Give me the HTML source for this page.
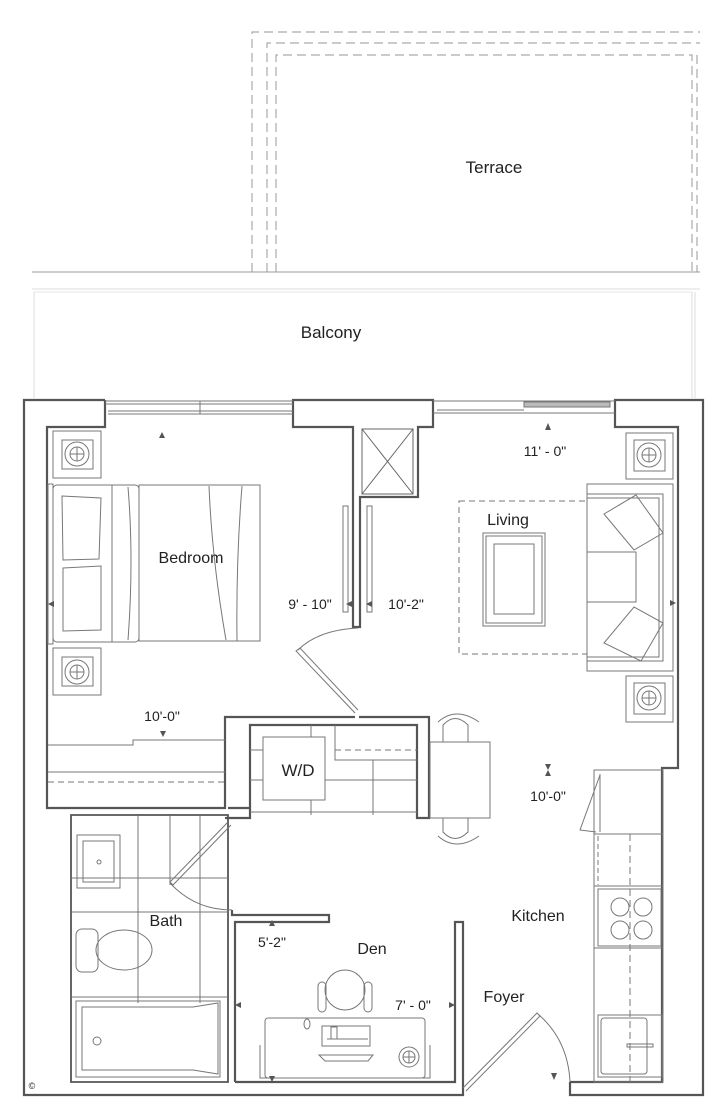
<!DOCTYPE html>
<html><head><meta charset="utf-8"><style>
html,body{margin:0;padding:0;background:#fff;}
svg{display:block;}
text{font-family:"Liberation Sans",sans-serif;fill:#222;}
</style></head><body>
<svg width="728" height="1119" viewBox="0 0 728 1119" xmlns="http://www.w3.org/2000/svg">
<rect width="728" height="1119" fill="#fff"/>
<!-- Terrace -->
<g fill="none" stroke="#aaa" stroke-width="1.2" stroke-dasharray="9,5">
<path d="M252,272 V32 H700"/>
<path d="M267,272 V43 H700"/>
<path d="M276,272 V55 H692 V272"/>
<path d="M697,55 V272"/>
</g>
<g stroke="#bbb" stroke-width="1" fill="none">
<line x1="32" y1="272" x2="700" y2="272" stroke="#999"/>
<line x1="32" y1="289" x2="700" y2="289" stroke="#ddd"/>
<line x1="34" y1="292" x2="34" y2="398" stroke="#ddd"/>
<line x1="692" y1="292" x2="692" y2="398" stroke="#ddd"/>
<line x1="695" y1="292" x2="695" y2="398" stroke="#ddd"/>
<line x1="34" y1="292" x2="692" y2="292" stroke="#e5e5e5"/>
</g>
<text x="494" y="173" font-size="17" text-anchor="middle">Terrace</text>
<text x="331" y="338" font-size="17" text-anchor="middle">Balcony</text>

<!-- Walls -->
<g fill="none" stroke="#555" stroke-width="2.2">
<path d="M105,400 H24 V1095 H463 V1082"/>
<path d="M570,1082 V1095 H703 V400 H615 V427 H678 V768 H662 V1082 H570"/>
<path d="M105,400 V427 H47 V808 H225 V717 H355"/>
<path d="M359,717 H429 V818 H417 V725 H250 V818 H225"/>
<path d="M293,400 H433 V427 H418 V497 H360 V627 H353 V427 H293 Z"/>
<path d="M71,815 H228 V1082 H71 Z" stroke-width="1.8"/>
<path d="M235,1082 V922 H329 V915 H232 V910"/>
<path d="M463,1082 V922 H455 V1082 H235"/>
<path d="M250,808 H228" />
</g>
<!-- windows -->
<g stroke="#777" stroke-width="1" fill="none">
<line x1="105" y1="401" x2="293" y2="401"/><line x1="105" y1="404" x2="293" y2="404"/>
<line x1="108" y1="411" x2="293" y2="411"/><line x1="108" y1="414" x2="293" y2="414"/>
<line x1="200" y1="401" x2="200" y2="414"/>
<line x1="433" y1="401" x2="615" y2="401"/><line x1="433" y1="413" x2="615" y2="413"/>
<line x1="437" y1="410" x2="524" y2="410"/>
<rect x="524" y="402" width="86" height="5" fill="#bbb"/>
</g>
<!-- closet X -->
<g stroke="#666" stroke-width="1" fill="none">
<rect x="362" y="429" width="51" height="65"/>
<line x1="362" y1="429" x2="413" y2="494"/><line x1="413" y1="429" x2="362" y2="494"/>
</g>
<!-- furniture -->
<g stroke="#777" stroke-width="1" fill="none">
<!-- nightstands -->
<rect x="53" y="431" width="48" height="47"/><rect x="62" y="440" width="31" height="29"/>
<circle cx="77" cy="454" r="12"/><circle cx="77" cy="454" r="7"/>
<line x1="70" y1="454" x2="84" y2="454"/><line x1="77" y1="447" x2="77" y2="461"/>
<rect x="53" y="648" width="48" height="47"/><rect x="62" y="657" width="31" height="29"/>
<circle cx="77" cy="672" r="12"/><circle cx="77" cy="672" r="7"/>
<line x1="70" y1="672" x2="84" y2="672"/><line x1="77" y1="665" x2="77" y2="679"/>
<rect x="626" y="433" width="47" height="46"/><rect x="634" y="440" width="31" height="31"/>
<circle cx="649" cy="455" r="12"/><circle cx="649" cy="455" r="7"/>
<line x1="642" y1="455" x2="656" y2="455"/><line x1="649" y1="448" x2="649" y2="462"/>
<rect x="626" y="676" width="47" height="46"/><rect x="634" y="683" width="31" height="31"/>
<circle cx="649" cy="698" r="12"/><circle cx="649" cy="698" r="7"/>
<line x1="642" y1="698" x2="656" y2="698"/><line x1="649" y1="691" x2="649" y2="705"/>
<!-- bed -->
<rect x="48" y="484" width="5" height="160"/>
<rect x="53" y="485" width="86" height="157" rx="4"/>
<line x1="112" y1="485" x2="112" y2="642"/>
<rect x="139" y="485" width="121" height="156"/>
<path d="M62,496 L101,498 L99,559 L63,560 Z"/>
<path d="M63,568 L101,566 L101,630 L63,631 Z"/>
<path d="M128,487 Q134,560 128,640"/><path d="M209,486 Q212,560 226,640"/><path d="M242,486 Q236,560 237,641"/>
<!-- sofa -->
<rect x="587" y="484" width="86" height="187"/>
<rect x="587" y="494" width="76" height="167"/>
<rect x="587" y="498" width="72" height="159"/>
<rect x="587" y="552" width="49" height="50"/>
<path d="M604,514 L636,495 L663,533 L634,550 Z"/>
<path d="M604,643 L634,607 L663,623 L641,661 Z"/>
<!-- rug + table -->
<rect x="459" y="501" width="128" height="153" stroke-dasharray="6,4"/>
<rect x="483" y="533" width="62" height="93"/><rect x="486" y="536" width="56" height="87"/>
<rect x="494" y="544" width="40" height="70"/>
<!-- closet doors -->
<rect x="343" y="506" width="5" height="106"/><rect x="367" y="506" width="5" height="106"/>
<!-- closet bedroom -->
<path d="M48,745 H133 V740 H225"/><line x1="48" y1="772" x2="225" y2="772"/>
<line x1="48" y1="782" x2="225" y2="782" stroke-dasharray="6,4"/>
<!-- W/D -->
<rect x="263" y="737" width="62" height="63"/>
<line x1="311" y1="725" x2="311" y2="737"/><line x1="311" y1="800" x2="311" y2="815"/>
<line x1="250" y1="750" x2="263" y2="750"/><line x1="250" y1="780" x2="263" y2="780"/>
<path d="M335,725 V760 H417"/><line x1="335" y1="750" x2="417" y2="750" stroke-dasharray="6,4"/>
<line x1="325" y1="780" x2="417" y2="780"/><line x1="373" y1="760" x2="373" y2="815"/>
<line x1="250" y1="812" x2="417" y2="812"/>
<!-- dining -->
<rect x="430" y="742" width="60" height="76"/>
<path d="M443,742 V725 Q455,712 468,725 V742"/><path d="M438,722 Q456,706 479,722"/>
<path d="M443,818 V832 Q455,845 468,832 V818"/><path d="M438,836 Q456,852 479,836"/>
<!-- kitchen -->
<rect x="594" y="770" width="69" height="312"/>
<line x1="600" y1="774" x2="600" y2="832"/>
<path d="M600,775 L580,830 L596,832"/>
<line x1="594" y1="834" x2="663" y2="834"/><line x1="594" y1="886" x2="663" y2="886"/>
<line x1="594" y1="948" x2="663" y2="948"/>
<line x1="630" y1="834" x2="630" y2="1082" stroke-dasharray="7,4"/>
<line x1="598" y1="836" x2="598" y2="885" stroke-dasharray="5,3"/>
<rect x="598" y="889" width="63" height="57"/>
<circle cx="620" cy="907" r="9"/><circle cx="643" cy="907" r="9"/>
<circle cx="620" cy="930" r="9"/><circle cx="643" cy="930" r="9"/>
<rect x="598" y="1015" width="64" height="62"/><rect x="601" y="1018" width="46" height="56" rx="3"/>
<rect x="627" y="1044" width="26" height="3"/>
<!-- bath -->
<line x1="138" y1="815" x2="138" y2="1003"/><line x1="170" y1="815" x2="170" y2="885"/>
<line x1="200" y1="815" x2="200" y2="1003"/>
<line x1="71" y1="912" x2="228" y2="912"/><line x1="71" y1="878" x2="228" y2="878"/>
<line x1="71" y1="997" x2="228" y2="997"/>
<rect x="77" y="835" width="43" height="53"/><rect x="83" y="841" width="31" height="41"/>
<circle cx="99" cy="862" r="2"/>
<rect x="76" y="929" width="22" height="43" rx="6"/>
<ellipse cx="124" cy="950" rx="28" ry="20"/>
<rect x="76" y="1001" width="144" height="76"/><path d="M82,1007 H193 L218,1003 V1074 L193,1070 H82 Z"/>
<circle cx="97" cy="1041" r="4"/>
<!-- den -->
<rect x="265" y="1018" width="160" height="60" rx="3"/>
<path d="M260,1045 V1078 H430 V1045"/>
<rect x="322" y="1026" width="48" height="20"/><rect x="331" y="1027" width="6" height="12"/>
<line x1="327" y1="1039" x2="368" y2="1039"/>
<path d="M319,1055 H373 L368,1061 H325 Z"/>
<circle cx="409" cy="1057" r="10"/><circle cx="409" cy="1057" r="6"/>
<line x1="403" y1="1057" x2="415" y2="1057"/><line x1="409" y1="1051" x2="409" y2="1063"/>
<ellipse cx="307" cy="1024" rx="3" ry="5"/>
<circle cx="345" cy="990" r="20"/>
<rect x="318" y="982" width="8" height="30" rx="4"/><rect x="364" y="982" width="8" height="30" rx="4"/>
<!-- doors -->
<path d="M355,713 L296,651 L300,648 L358,710"/><path d="M298,650 Q318,630 358,628"/>
<path d="M228,822 L170,882 L173,885 L231,825"/><path d="M170,883 Q195,910 232,910"/>
<path d="M463,1088 L537,1013 L540,1016 L466,1091"/><path d="M538,1014 Q568,1040 570,1082"/>
</g>
<!-- dim arrows -->
<g fill="#555">
<path d="M162,432 l-3,6 h6z"/><path d="M548,423 l-3,7 h6z"/>
<path d="M163,737 l-3,-6 h6z"/><path d="M48,604 l6,-3 v6z"/>
<path d="M346,604 l6,-3 v6z"/><path d="M366,604 l6,-3 v6z"/>
<path d="M676,603 l-6,-3 v6z"/>
<path d="M548,770 l-3,-6 h6z"/><path d="M548,770 l-3,6 h6z"/>
<path d="M272,920 l-3,6 h6z"/><path d="M235,1005 l6,-3 v6z"/>
<path d="M455,1005 l-6,-3 v6z"/><path d="M272,1082 l-3,-6 h6z"/>
<path d="M554,1080 l-3,-7 h6z"/>
</g>
<!-- labels -->
<g font-size="16" text-anchor="middle">
<text x="191" y="563">Bedroom</text>
<text x="508" y="525">Living</text>
<text x="298" y="776" font-size="17">W/D</text>
<text x="166" y="926">Bath</text>
<text x="372" y="954">Den</text>
<text x="538" y="921">Kitchen</text>
<text x="504" y="1002">Foyer</text>
</g>
<g font-size="14" text-anchor="middle">
<text x="310" y="609">9' - 10"</text>
<text x="406" y="609">10'-2"</text>
<text x="162" y="721">10'-0"</text>
<text x="545" y="456">11' - 0"</text>
<text x="548" y="801">10'-0"</text>
<text x="272" y="947">5'-2"</text>
<text x="413" y="1010">7' - 0"</text>
</g>
<text x="32" y="1089" font-size="9" text-anchor="middle">©</text>
</svg>
</body></html>
